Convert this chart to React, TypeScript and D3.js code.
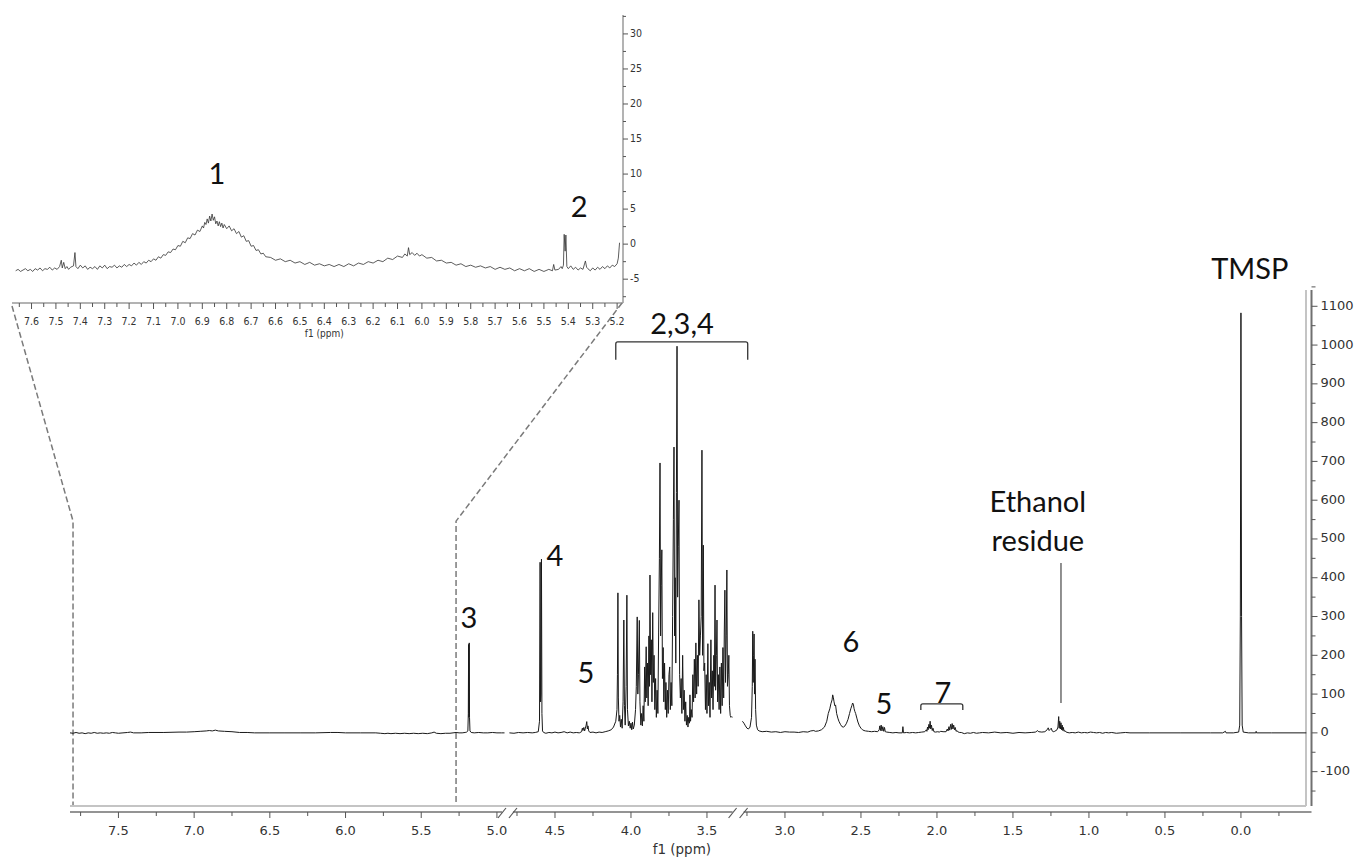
import React from 'react';
import * as d3 from 'd3';

// ---------------- DATA ----------------
// Inset trace: [ppm, intensity]
const insetTrace: [number, number][] = [
  [7.665,-3.8],[7.655,-3.6],[7.645,-3.9],[7.635,-3.7],[7.625,-3.5],[7.615,-3.8],[7.605,-3.6],[7.595,-3.9],[7.585,-3.5],[7.575,-3.7],
  [7.565,-3.4],[7.555,-3.8],[7.545,-3.5],[7.535,-3.6],[7.525,-3.3],[7.515,-3.7],[7.505,-3.4],[7.495,-3.6],[7.485,-3.2],[7.478,-2.3],
  [7.474,-3.4],[7.468,-2.6],[7.462,-3.5],[7.455,-3.2],[7.448,-3.6],[7.44,-3.3],[7.428,-3.1],[7.422,-1.2],[7.418,-3.2],[7.41,-3.5],
  [7.40,-3.0],[7.39,-3.4],[7.38,-3.1],[7.37,-3.6],[7.36,-3.3],[7.35,-3.5],[7.34,-3.2],[7.33,-3.6],[7.32,-3.1],[7.31,-3.4],
  [7.30,-3.0],[7.29,-3.5],[7.28,-3.2],[7.27,-3.3],[7.26,-3.0],[7.25,-3.4],[7.24,-3.1],[7.23,-3.3],[7.22,-2.9],[7.21,-3.2],
  [7.20,-2.9],[7.19,-3.1],[7.18,-2.7],[7.17,-3.0],[7.16,-2.6],[7.15,-2.9],[7.14,-2.5],[7.13,-2.7],[7.12,-2.3],[7.11,-2.5],
  [7.10,-2.1],[7.09,-2.3],[7.08,-1.8],[7.07,-2.0],[7.06,-1.5],[7.05,-1.6],[7.04,-1.1],[7.03,-1.2],[7.02,-0.7],[7.01,-0.8],
  [7.00,-0.2],[6.99,-0.3],[6.98,0.4],[6.97,0.2],[6.96,0.9],[6.95,0.8],[6.94,1.5],[6.93,1.3],[6.92,2.0],[6.91,1.8],
  [6.90,2.6],[6.895,2.3],[6.89,3.1],[6.885,2.8],[6.88,3.6],[6.875,3.0],[6.87,4.0],[6.865,3.3],[6.86,4.3],[6.855,3.4],
  [6.85,3.9],[6.845,2.9],[6.84,3.3],[6.835,2.6],[6.83,3.2],[6.825,2.5],[6.82,3.0],[6.815,2.3],[6.81,2.8],[6.80,2.2],
  [6.79,2.6],[6.78,1.9],[6.77,2.2],[6.76,1.5],[6.75,1.8],[6.74,1.0],[6.73,1.2],[6.72,0.4],[6.71,0.5],[6.70,-0.3],
  [6.69,-0.2],[6.68,-0.9],[6.67,-0.8],[6.66,-1.4],[6.65,-1.3],[6.64,-1.8],[6.62,-1.9],[6.60,-2.3],[6.58,-2.1],[6.56,-2.5],
  [6.54,-2.3],[6.52,-2.7],[6.50,-2.5],[6.48,-2.9],[6.46,-2.6],[6.44,-3.0],[6.42,-2.8],[6.40,-3.1],[6.38,-2.9],[6.36,-3.2],
  [6.34,-2.9],[6.32,-3.2],[6.30,-2.8],[6.28,-3.1],[6.26,-2.7],[6.24,-2.9],[6.22,-2.5],[6.20,-2.7],[6.18,-2.3],[6.16,-2.5],
  [6.14,-2.0],[6.12,-2.2],[6.10,-1.7],[6.08,-1.9],[6.07,-1.4],[6.06,-1.7],[6.055,-0.5],[6.05,-1.5],[6.04,-1.2],[6.03,-1.6],
  [6.02,-1.3],[6.01,-1.7],[6.00,-1.5],[5.98,-2.0],[5.96,-1.9],[5.94,-2.4],[5.92,-2.3],[5.90,-2.7],[5.88,-2.6],[5.86,-3.0],
  [5.84,-2.8],[5.82,-3.2],[5.80,-3.0],[5.78,-3.3],[5.76,-3.1],[5.74,-3.4],[5.72,-3.2],[5.70,-3.6],[5.68,-3.3],[5.66,-3.6],
  [5.64,-3.4],[5.62,-3.8],[5.60,-3.5],[5.58,-3.8],[5.56,-3.5],[5.54,-3.9],[5.52,-3.6],[5.50,-3.9],[5.48,-3.6],[5.465,-3.8],
  [5.46,-2.9],[5.455,-3.7],[5.44,-3.6],[5.43,-3.2],[5.425,-3.5],[5.42,-3.0],[5.417,1.4],[5.413,-1.0],[5.41,1.3],[5.406,-3.2],
  [5.40,-3.5],[5.39,-3.1],[5.38,-3.6],[5.37,-3.3],[5.36,-3.7],[5.35,-3.4],[5.34,-3.6],[5.33,-2.4],[5.325,-3.3],[5.32,-3.5],
  [5.31,-3.8],[5.30,-3.4],[5.29,-3.7],[5.28,-3.3],[5.27,-3.6],[5.26,-3.2],[5.25,-3.5],[5.24,-3.1],[5.23,-3.4],[5.22,-3.0],
  [5.21,-3.2],[5.20,-2.8],[5.195,-2.0],[5.19,0.2]
];

// Main spectrum, segment 1 (7.82 - 4.95 ppm)
const mainSeg1: [number, number][] = [
  [7.82,0],[7.80,-1],[7.78,1],[7.76,-1],[7.74,0],[7.72,-2],[7.70,0],[7.68,-1],[7.66,1],[7.64,-1],[7.62,0],[7.60,-1],
  [7.58,0],[7.56,-1],[7.54,1],[7.52,0],[7.50,-1],[7.47,0],[7.44,1],[7.42,2],[7.40,0],[7.35,0],[7.30,1],[7.20,1],
  [7.10,2],[7.05,2],[7.00,3],[6.96,4],[6.92,5],[6.90,6],[6.88,5],[6.86,7],[6.84,5],[6.80,4],[6.75,3],[6.70,1],
  [6.65,1],[6.60,0],[6.50,0],[6.40,0],[6.30,0],[6.20,0],[6.10,1],[6.05,1],[6.00,0],[5.90,0],[5.80,0],[5.77,-1],
  [5.74,-2],[5.72,-1],[5.70,-2],[5.67,-1],[5.64,-2],[5.61,-1],[5.58,-2],[5.55,-1],[5.52,-2],[5.49,-1],[5.46,-2],
  [5.43,0],[5.415,2],[5.40,-1],[5.37,-2],[5.34,-1],[5.31,-1],[5.29,0],[5.27,1],[5.25,0],[5.23,0],[5.21,1],[5.20,2],
  [5.192,5],[5.189,50],[5.187,228],[5.185,40],[5.183,232],[5.181,40],[5.178,5],[5.17,1],[5.15,0],[5.12,1],[5.09,0],
  [5.06,0],[5.03,1],[5.00,0],[4.97,0],[4.95,0]
];

// Main spectrum, segment 2 (4.80 - 3.33 ppm)
const mainSeg2: [number, number][] = [
  [4.80,0],[4.77,-1],[4.74,1],[4.71,0],[4.68,1],[4.65,0],[4.63,1],[4.61,3],[4.602,30],[4.598,440],[4.595,80],[4.592,100],
  [4.589,448],[4.586,50],[4.582,5],[4.575,1],[4.56,-1],[4.54,1],[4.52,0],[4.50,2],[4.48,0],[4.46,1],[4.44,3],[4.42,0],
  [4.40,2],[4.38,0],[4.36,1],[4.34,0],[4.325,3],[4.32,12],[4.316,6],[4.31,14],[4.305,5],[4.30,12],[4.295,20],[4.291,29],
  [4.287,10],[4.283,18],[4.278,5],[4.27,1],[4.25,2],[4.23,0],[4.21,2],[4.19,1],[4.17,3],[4.15,5],[4.13,8],[4.115,15],
  [4.10,30],[4.092,60],[4.089,150],[4.086,361],[4.083,90],[4.079,30],[4.074,45],[4.069,15],[4.064,35],[4.058,12],[4.052,80],
  [4.047,291],[4.043,70],[4.038,20],[4.032,120],[4.027,355],[4.023,60],[4.017,18],[4.011,30],[4.005,12],[4.0,25],[3.995,8],
  [3.99,28],[3.985,10],[3.978,20],[3.97,60],[3.965,120],[3.959,299],[3.955,100],[3.951,150],[3.945,290],[3.941,80],[3.935,20],
  [3.93,50],[3.925,18],[3.92,70],[3.915,30],[3.91,170],[3.906,80],[3.90,222],[3.896,90],[3.891,180],[3.887,70],[3.882,250],
  [3.878,120],[3.875,407],[3.871,150],[3.866,240],[3.862,80],[3.857,310],[3.853,130],[3.848,200],[3.843,60],[3.838,140],
  [3.833,40],[3.828,110],[3.823,50],[3.818,260],[3.813,450],[3.809,696],[3.805,250],[3.801,380],[3.797,472],[3.793,140],
  [3.788,220],[3.784,80],[3.779,180],[3.774,60],[3.77,130],[3.765,40],[3.76,110],[3.755,50],[3.75,150],[3.745,170],
  [3.741,60],[3.736,130],[3.731,70],[3.726,300],[3.721,550],[3.717,737],[3.713,250],[3.709,400],[3.705,180],[3.701,620],
  [3.697,997],[3.693,350],[3.689,480],[3.684,600],[3.68,150],[3.675,90],[3.67,140],[3.665,50],[3.66,200],[3.655,60],
  [3.65,110],[3.645,30],[3.64,80],[3.635,20],[3.63,45],[3.625,15],[3.62,40],[3.615,25],[3.612,98],[3.608,30],[3.603,60],
  [3.598,40],[3.593,150],[3.588,80],[3.583,190],[3.578,90],[3.573,232],[3.568,100],[3.563,200],[3.558,120],[3.553,343],
  [3.548,200],[3.543,250],[3.538,300],[3.533,729],[3.529,200],[3.524,484],[3.52,160],[3.515,180],[3.51,60],[3.505,150],
  [3.50,50],[3.494,230],[3.49,70],[3.485,130],[3.48,40],[3.474,240],[3.47,90],[3.465,160],[3.46,60],[3.455,200],[3.451,120],
  [3.447,381],[3.443,110],[3.438,200],[3.434,291],[3.43,80],[3.425,150],[3.42,60],[3.415,170],[3.41,50],[3.405,180],
  [3.40,70],[3.395,220],[3.39,90],[3.386,260],[3.382,368],[3.378,130],[3.373,250],[3.369,420],[3.365,120],[3.36,150],
  [3.356,200],[3.352,70],[3.347,45],[3.342,40],[3.337,42],[3.333,40]
];

// Main spectrum, segment 3 (3.28 - -0.43 ppm)
const mainSeg3: [number, number][] = [
  [3.28,30],[3.27,25],[3.26,18],[3.25,12],[3.24,10],[3.23,15],[3.22,40],[3.215,120],[3.212,262],[3.209,130],[3.206,200],
  [3.203,255],[3.20,100],[3.197,190],[3.193,60],[3.188,20],[3.18,8],[3.17,5],[3.15,3],[3.12,4],[3.09,2],[3.06,3],[3.03,1],
  [3.00,3],[2.97,2],[2.94,2],[2.91,1],[2.88,3],[2.85,2],[2.83,5],[2.81,6],[2.80,4],[2.78,5],[2.76,8],[2.74,15],[2.725,30],
  [2.715,50],[2.705,62],[2.698,75],[2.69,85],[2.686,98],[2.682,92],[2.677,80],[2.672,70],[2.667,72],[2.66,50],[2.652,38],
  [2.645,30],[2.635,22],[2.625,16],[2.615,15],[2.605,18],[2.595,25],[2.585,35],[2.575,50],[2.567,62],[2.56,70],[2.555,77],
  [2.55,74],[2.545,62],[2.54,55],[2.535,50],[2.527,38],[2.52,28],[2.51,18],[2.50,12],[2.49,8],[2.48,6],[2.47,5],[2.45,4],
  [2.43,3],[2.41,4],[2.39,3],[2.38,8],[2.376,18],[2.372,6],[2.367,20],[2.362,5],[2.356,16],[2.35,4],[2.345,14],[2.34,3],
  [2.33,2],[2.31,1],[2.29,0],[2.27,1],[2.25,0],[2.228,0],[2.224,16],[2.22,0],[2.20,1],[2.18,0],[2.16,1],[2.14,0],[2.12,1],
  [2.10,2],[2.08,3],[2.07,8],[2.066,4],[2.062,15],[2.058,8],[2.053,22],[2.049,12],[2.045,30],[2.041,10],[2.036,20],[2.031,6],
  [2.026,12],[2.02,3],[2.01,2],[1.995,3],[1.985,2],[1.975,4],[1.96,3],[1.94,3],[1.932,10],[1.927,5],[1.921,16],[1.916,7],
  [1.91,22],[1.905,9],[1.90,24],[1.895,10],[1.89,20],[1.885,8],[1.88,14],[1.874,4],[1.868,6],[1.86,2],[1.85,1],[1.84,1],
  [1.82,-2],[1.80,0],[1.78,-1],[1.76,1],[1.74,-1],[1.72,0],[1.70,1],[1.66,0],[1.62,2],[1.58,0],[1.54,1],[1.50,-1],[1.46,1],
  [1.42,0],[1.38,1],[1.35,2],[1.34,6],[1.33,3],[1.31,2],[1.29,3],[1.275,8],[1.268,13],[1.262,6],[1.255,9],[1.248,12],
  [1.242,5],[1.235,3],[1.225,4],[1.21,8],[1.204,15],[1.199,42],[1.196,12],[1.192,30],[1.188,10],[1.184,26],[1.18,8],
  [1.176,20],[1.172,6],[1.168,14],[1.164,4],[1.158,6],[1.15,2],[1.13,0],[1.11,1],[1.09,0],[1.07,2],[1.05,0],[1.03,1],
  [1.01,0],[0.99,2],[0.97,1],[0.95,0],[0.93,1],[0.91,-1],[0.89,1],[0.87,0],[0.85,1],[0.82,-1],[0.79,0],[0.76,1],[0.73,0],
  [0.60,0],[0.40,0],[0.20,0],[0.12,0],[0.102,4],[0.098,0],[0.05,0],[0.015,2],[0.008,20],[0.004,300],[0.0,1083],
  [-0.004,300],[-0.008,20],[-0.015,2],[-0.05,0],[-0.098,0],[-0.10,4],[-0.102,0],[-0.20,0],[-0.43,0]
];

const mainSegDomains: [number, number][] = [[7.82, 4.95], [4.80, 3.33], [3.28, -0.43]];
const mainXTickLabels = [7.5, 7.0, 6.5, 6.0, 5.5, 5.0, 4.5, 4.0, 3.5, 3.0, 2.5, 2.0, 1.5, 1.0, 0.5, 0.0];
const mainYTickLabels = [-100, 0, 100, 200, 300, 400, 500, 600, 700, 800, 900, 1000, 1100];
const insetXTickLabels = [7.6, 7.5, 7.4, 7.3, 7.2, 7.1, 7.0, 6.9, 6.8, 6.7, 6.6, 6.5, 6.4, 6.3, 6.2, 6.1, 6.0, 5.9, 5.8, 5.7, 5.6, 5.5, 5.4, 5.3, 5.2];
const insetYTickLabels = [-5, 0, 5, 10, 15, 20, 25, 30];

// annotation labels: segment index, ppm, intensity (text baseline)
const mainLabels = [
  { text: '3', seg: 0, ppm: 5.185, v: 271 },
  { text: '4', seg: 1, ppm: 4.50, v: 431 },
  { text: '5', seg: 1, ppm: 4.296, v: 129 },
  { text: '2,3,4', seg: 1, ppm: 3.664, v: 1029 },
  { text: '6', seg: 2, ppm: 2.566, v: 209 },
  { text: '5', seg: 2, ppm: 2.349, v: 49 },
  { text: '7', seg: 2, ppm: 1.961, v: 77 },
  { text: 'Ethanol', seg: 2, ppm: 1.336, v: 569 },
  { text: 'residue', seg: 2, ppm: 1.336, v: 470 },
  { text: 'TMSP', seg: 2, ppm: -0.058, v: 1171 },
];
const insetLabels = [
  { text: '1', ppm: 6.84, v: 8.6 },
  { text: '2', ppm: 5.356, v: 3.9 },
];

// ---------------- LAYOUT ----------------
const W = 1359, H = 858;
const segRanges: [number, number][] = [[70, 504.5], [509.4, 732.8], [742.4, 1306.3]];
const mainY = d3.scaleLinear().domain([-186, 1142]).range([805, 290]);
const segX = mainSegDomains.map((d, i) => d3.scaleLinear().domain(d).range(segRanges[i]));
const insetX = d3.scaleLinear().domain([7.68, 5.18]).range([12, 622]);
const insetY = d3.scaleLinear().domain([-8.4, 32.7]).range([303, 15]);

const FRAME_Y = 806;
const AXIS_Y = 812;
const FRAME_X = 1306;
const AXIS_X = 1311.5;
const INSET_AXIS_Y = 303;
const INSET_AXIS_X = 623;

const labelFont = 'Lato, "Open Sans", sans-serif';
const tickFont = '"DejaVu Sans", Verdana, sans-serif';
const insetFont = '"DejaVu Sans Condensed", "DejaVu Sans", sans-serif';

function segFor(ppm: number) {
  for (let i = 0; i < mainSegDomains.length; i++) {
    const [a, b] = mainSegDomains[i];
    if (ppm <= a + 1e-9 && ppm >= b - 1e-9) return i;
  }
  return -1;
}

export default function App() {
  const segData = [mainSeg1, mainSeg2, mainSeg3];
  const paths = segData.map((data, i) =>
    d3.line<[number, number]>().x(d => segX[i](d[0])).y(d => mainY(d[1]))(data) as string
  );
  const insetPath = d3.line<[number, number]>().x(d => insetX(d[0])).y(d => insetY(d[1]))(insetTrace) as string;

  // main x ticks at 0.25 ppm steps in each segment
  const xTicks: { x: number; major: boolean }[] = [];
  mainSegDomains.forEach(([a, b], i) => {
    for (let k = Math.ceil(b * 4); k <= Math.floor(a * 4); k++) {
      xTicks.push({ x: segX[i](k / 4), major: k % 2 === 0 });
    }
  });

  // main y ticks (majors from labels, minors halfway)
  const yMinor: number[] = [];
  mainYTickLabels.forEach(v => { yMinor.push(v + 50); });
  yMinor.push(-150);

  // inset ticks
  const insetMinorX: number[] = [];
  insetXTickLabels.forEach(v => insetMinorX.push(v + 0.05));
  const insetMinorY: number[] = [];
  insetYTickLabels.forEach(v => insetMinorY.push(v + 2.5));
  insetMinorY.push(-7.5);

  // breaks
  const breaks = [0, 1].map(i => (segRanges[i][1] + segRanges[i + 1][0]) / 2);

  // axis line pieces
  const axisPieces: [number, number][] = [
    [segRanges[0][0], breaks[0] - 5],
    [breaks[0] + 6, breaks[1] - 5],
    [breaks[1] + 6, AXIS_X],
  ];

  // connectors
  const joinV = 546;
  const leftConn = [
    [insetX(7.68), INSET_AXIS_Y + 3],
    [segX[0](7.80), mainY(joinV)],
    [segX[0](7.80), FRAME_Y],
  ];
  const rightConn = [
    [insetX(5.18), INSET_AXIS_Y],
    [segX[0](5.27), mainY(joinV)],
    [segX[0](5.27), FRAME_Y],
  ];
  const polyline = (pts: number[][]) => pts.map(p => p.join(',')).join(' ');

  // brackets
  const br234 = { x1: segX[1](4.10), x2: segX[2](3.245), top: mainY(1008), bot: mainY(962) };
  const br7 = { x1: segX[2](2.106), x2: segX[2](1.830), top: mainY(75), bot: mainY(59) };
  const bracketPath = (b: { x1: number; x2: number; top: number; bot: number }) =>
    `M${b.x1},${b.bot} L${b.x1},${b.top + 2} Q${b.x1},${b.top} ${b.x1 + 2},${b.top} L${b.x2 - 2},${b.top} Q${b.x2},${b.top} ${b.x2},${b.top + 2} L${b.x2},${b.bot}`;

  const leaderX = segX[2](1.184);

  return (
    <div style={{ position: 'absolute', left: 0, top: 0, width: W, height: H, background: '#fff' }}>
      <svg width={W} height={H} style={{ display: 'block' }}>
        <rect x={0} y={0} width={W} height={H} fill="#fff" />

        {/* ---------- INSET ---------- */}
        <path d={insetPath} fill="none" stroke="#333" strokeWidth={0.8} />
        <line x1={insetX(7.68)} x2={INSET_AXIS_X} y1={INSET_AXIS_Y} y2={INSET_AXIS_Y} stroke="#9a9a9a" strokeWidth={1.5} />
        <line x1={INSET_AXIS_X} x2={INSET_AXIS_X} y1={insetY(32.7)} y2={INSET_AXIS_Y} stroke="#9a9a9a" strokeWidth={1.5} />
        {insetXTickLabels.map(v => (
          <g key={'ixt' + v}>
            <line x1={insetX(v)} x2={insetX(v)} y1={INSET_AXIS_Y} y2={INSET_AXIS_Y + 6} stroke="#555" strokeWidth={1} />
            <text x={insetX(v)} y={322} fontFamily={insetFont} fontSize={10.5} fill="#333" textAnchor="middle" dominantBaseline="middle">{v.toFixed(1)}</text>
          </g>
        ))}
        {insetMinorX.filter(v => v < 7.68 && v > 5.18).map(v => (
          <line key={'ixm' + v} x1={insetX(v)} x2={insetX(v)} y1={INSET_AXIS_Y} y2={INSET_AXIS_Y + 4} stroke="#555" strokeWidth={1} />
        ))}
        <text x={insetX(6.4)} y={334} fontFamily={insetFont} fontSize={10} fill="#333" textAnchor="middle" dominantBaseline="middle">f1 (ppm)</text>
        {insetYTickLabels.map(v => (
          <g key={'iyt' + v}>
            <line x1={INSET_AXIS_X} x2={INSET_AXIS_X + 5} y1={insetY(v)} y2={insetY(v)} stroke="#555" strokeWidth={1} />
            <text x={INSET_AXIS_X + 7} y={insetY(v)} fontFamily={insetFont} fontSize={10.5} fill="#333" dominantBaseline="middle">{String(v)}</text>
          </g>
        ))}
        {insetMinorY.map(v => (
          <line key={'iym' + v} x1={INSET_AXIS_X} x2={INSET_AXIS_X + 3} y1={insetY(v)} y2={insetY(v)} stroke="#555" strokeWidth={1} />
        ))}
        {insetLabels.map((l, i) => (
          <text key={'il' + i} x={insetX(l.ppm)} y={insetY(l.v)} fontFamily={labelFont} fontSize={29} fill="#111" textAnchor="middle">{l.text}</text>
        ))}

        {/* ---------- CONNECTORS ---------- */}
        <polyline points={polyline(leftConn)} fill="none" stroke="#7a7a7a" strokeWidth={1.5} strokeDasharray="6,3" />
        <polyline points={polyline(rightConn)} fill="none" stroke="#7a7a7a" strokeWidth={1.5} strokeDasharray="6,3" />

        {/* ---------- MAIN FRAME & AXES ---------- */}
        <line x1={segRanges[0][0]} x2={FRAME_X} y1={FRAME_Y} y2={FRAME_Y} stroke="#c4c4c4" strokeWidth={2} />
        <line x1={FRAME_X} x2={FRAME_X} y1={mainY(1142)} y2={FRAME_Y} stroke="#c4c4c4" strokeWidth={2} />
        {axisPieces.map((p, i) => (
          <line key={'ap' + i} x1={p[0]} x2={p[1]} y1={AXIS_Y} y2={AXIS_Y} stroke="#707070" strokeWidth={1.5} />
        ))}
        {breaks.map((b, i) => (
          <g key={'br' + i}>
            <line x1={b - 9} x2={b - 1} y1={AXIS_Y + 6} y2={AXIS_Y - 4} stroke="#555" strokeWidth={1.2} />
            <line x1={b + 2} x2={b + 10} y1={AXIS_Y + 6} y2={AXIS_Y - 4} stroke="#555" strokeWidth={1.2} />
          </g>
        ))}
        {xTicks.map((t, i) => (
          <line key={'xt' + i} x1={t.x} x2={t.x} y1={AXIS_Y} y2={AXIS_Y + (t.major ? 6 : 4)} stroke="#555" strokeWidth={1} />
        ))}
        {mainXTickLabels.map(v => {
          const s = segFor(v);
          if (s < 0) return null;
          return (
            <text key={'xl' + v} x={segX[s](v)} y={831} fontFamily={tickFont} fontSize={13} fill="#333" textAnchor="middle" dominantBaseline="middle">{v.toFixed(1)}</text>
          );
        })}
        <text x={segX[1](3.665)} y={850} fontFamily={tickFont} fontSize={13.5} fill="#333" textAnchor="middle" dominantBaseline="middle">f1 (ppm)</text>

        <line x1={AXIS_X} x2={AXIS_X} y1={mainY(1142)} y2={FRAME_Y} stroke="#707070" strokeWidth={2} />
        {mainYTickLabels.map(v => (
          <g key={'yt' + v}>
            <line x1={AXIS_X} x2={AXIS_X + 6} y1={mainY(v)} y2={mainY(v)} stroke="#555" strokeWidth={1} />
            <text x={AXIS_X + 9} y={mainY(v)} fontFamily={tickFont} fontSize={13} fill="#333" dominantBaseline="middle">{String(v)}</text>
          </g>
        ))}
        {yMinor.map(v => (
          <line key={'ym' + v} x1={AXIS_X} x2={AXIS_X + 4} y1={mainY(v)} y2={mainY(v)} stroke="#555" strokeWidth={1} />
        ))}

        {/* ---------- MAIN SPECTRUM ---------- */}
        {paths.map((p, i) => (
          <path key={'sp' + i} d={p} fill="none" stroke="#1a1a1a" strokeWidth={1} />
        ))}

        {/* ---------- ANNOTATIONS ---------- */}
        <path d={bracketPath(br234)} fill="none" stroke="#333" strokeWidth={1.3} />
        <path d={bracketPath(br7)} fill="none" stroke="#333" strokeWidth={1.3} />
        <line x1={leaderX} x2={leaderX} y1={mainY(438)} y2={mainY(77)} stroke="#555" strokeWidth={1.3} />
        {mainLabels.map((l, i) => (
          <text key={'ml' + i} x={segX[l.seg](l.ppm)} y={mainY(l.v)} fontFamily={labelFont} fontSize={29} fill="#111" textAnchor="middle">{l.text}</text>
        ))}
      </svg>
    </div>
  );
}
